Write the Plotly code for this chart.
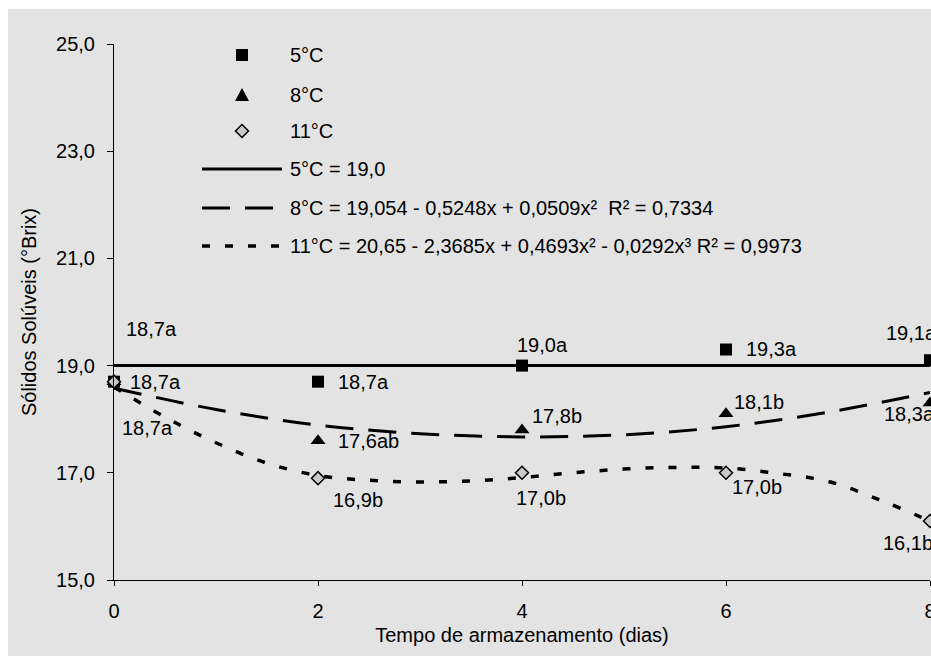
import plotly.graph_objects as go

# ---------------- data ----------------
dias = [0, 2, 4, 6, 8]
y_5 = [18.7, 18.7, 19.0, 19.3, 19.1]
y_8 = [18.7, 17.6, 17.8, 18.1, 18.3]
y_11 = [18.7, 16.9, 17.0, 17.0, 16.1]
let_5 = ["a", "a", "a", "a", "a"]
let_8 = ["a", "ab", "b", "b", "a"]
let_11 = ["a", "b", "b", "b", "b"]

# trend lines
trend5_x = [0, 8]
trend5_y = [19.0, 19.0]
trend8_x = [0, 1, 2, 3, 4, 5, 6, 7, 8]
trend8_y = [18.58, 18.18, 17.89, 17.73, 17.67, 17.71, 17.86, 18.13, 18.5]
trend11_x = [0, 0.5, 1, 1.5, 2, 2.5, 3, 3.5, 4, 4.5, 5, 5.5, 6, 6.5, 7, 7.5, 8]
trend11_y = [18.6, 18.04, 17.56, 17.18, 16.95, 16.86, 16.83, 16.85, 16.91,
             17.0, 17.07, 17.1, 17.09, 16.99, 16.84, 16.5, 16.1]

y_ticks = [15, 17, 19, 21, 23, 25]
x_ticks = [0, 2, 4, 6, 8]

legend_labels = ["5°C", "8°C", "11°C",
                 "5°C = 19,0",
                 "8°C = 19,054 - 0,5248x + 0,0509x²  R² = 0,7334",
                 "11°C = 20,65 - 2,3685x + 0,4693x² - 0,0292x³ R² = 0,9973"]

# ---------------- layout constants ----------------
W, H = 931, 656
L, R, T, B = 114, 1, 44, 76
PW = W - L - R
PH = H - T - B
FONT = "Liberation Sans, Arial, sans-serif"
FS = 20
GRAY = "#e3e3e3"
DIAM = "#c8c8c8"
DASH8 = "28px,15px"
DOT11 = "8px,15px"

def px2x(px):
    return (px - L) / PW

def py2y(py):
    return (H - B - py) / PH

# label offsets (pixels: dx, dy downward)
off_5 = [(37, -53), (45, 0), (20, -21), (45, -1), (-19, -27)]
off_8 = [(41, 0), (50, 0), (35, -14), (33, -12), (-21, 11)]
off_11 = [(33, 46), (40, 22), (19, 25), (31, 14), (-22, 22)]

def fmt(v):
    return f"{v:.1f}".replace(".", ",")

fig = go.Figure()

# trend lines
fig.add_trace(go.Scatter(x=trend5_x, y=trend5_y, mode="lines",
                         line=dict(color="black", width=3), showlegend=False,
                         hoverinfo="skip"))
fig.add_trace(go.Scatter(x=trend8_x, y=trend8_y, mode="lines", line_shape="spline",
                         line=dict(color="black", width=3, dash=DASH8), showlegend=False,
                         hoverinfo="skip"))
fig.add_trace(go.Scatter(x=trend11_x, y=trend11_y, mode="lines", line_shape="spline",
                         line=dict(color="black", width=3.5, dash=DOT11), showlegend=False,
                         hoverinfo="skip"))

# markers
fig.add_trace(go.Scatter(x=dias, y=y_5, mode="markers", cliponaxis=False,
                         marker=dict(symbol="square", size=12, color="black"),
                         showlegend=False))
fig.add_trace(go.Scatter(x=dias, y=y_8, mode="markers", cliponaxis=False,
                         marker=dict(symbol="triangle-up", size=13, color="black"),
                         showlegend=False))
fig.add_trace(go.Scatter(x=dias, y=y_11, mode="markers", cliponaxis=False,
                         marker=dict(symbol="diamond", size=10, color=DIAM,
                                     line=dict(color="black", width=1.5)),
                         showlegend=False))

# data labels
annotations = []
for ys, lets, offs in [(y_5, let_5, off_5), (y_8, let_8, off_8), (y_11, let_11, off_11)]:
    for xv, yv, lt, (dx, dy) in zip(dias, ys, lets, offs):
        annotations.append(dict(x=xv, y=yv, xref="x", yref="y", text=fmt(yv) + lt,
                                showarrow=False, xshift=dx, yshift=-dy,
                                xanchor="center", yanchor="middle",
                                font=dict(family=FONT, size=FS, color="black")))

# manual legend
leg_rows = [55, 95, 131, 169, 208, 246]
leg_sym_x = 242
leg_text_x = 288
shapes = []
# background panel
shapes.append(dict(type="rect", xref="paper", yref="paper",
                   x0=px2x(8), x1=px2x(W + 5), y0=py2y(H + 5), y1=py2y(9),
                   fillcolor=GRAY, line=dict(width=0), layer="below"))
# square
shapes.append(dict(type="rect", xref="paper", yref="paper",
                   xsizemode="pixel", ysizemode="pixel",
                   xanchor=px2x(leg_sym_x), yanchor=py2y(leg_rows[0]),
                   x0=-6, x1=6, y0=-6, y1=6, fillcolor="black", line=dict(width=0)))
# triangle
shapes.append(dict(type="path", xref="paper", yref="paper",
                   xsizemode="pixel", ysizemode="pixel",
                   xanchor=px2x(leg_sym_x), yanchor=py2y(leg_rows[1]),
                   path="M-7,-6 L7,-6 L0,7 Z", fillcolor="black", line=dict(width=0)))
# diamond
shapes.append(dict(type="path", xref="paper", yref="paper",
                   xsizemode="pixel", ysizemode="pixel",
                   xanchor=px2x(leg_sym_x), yanchor=py2y(leg_rows[2]),
                   path="M0,-6.5 L6.5,0 L0,6.5 L-6.5,0 Z", fillcolor=DIAM,
                   line=dict(color="black", width=1.5)))
# lines
for row, dash, w in [(leg_rows[3], "solid", 3), (leg_rows[4], DASH8, 3), (leg_rows[5], DOT11, 3.5)]:
    shapes.append(dict(type="line", xref="paper", yref="paper",
                       x0=px2x(202), x1=px2x(282), y0=py2y(row), y1=py2y(row),
                       line=dict(color="black", width=w, dash=dash)))

for row, txt in zip(leg_rows, legend_labels):
    annotations.append(dict(x=px2x(leg_text_x), y=py2y(row), xref="paper", yref="paper",
                            text=txt, showarrow=False, xanchor="left", yanchor="middle",
                            font=dict(family=FONT, size=FS, color="black")))

axis_common = dict(showgrid=False, zeroline=False, showline=True, linecolor="black",
                   linewidth=1, ticks="outside", tickcolor="black", tickwidth=1,
                   tickfont=dict(family=FONT, size=FS, color="black"))

fig.update_layout(
    width=W, height=H,
    margin=dict(l=L, r=R, t=T, b=B, autoexpand=False),
    paper_bgcolor="white",
    plot_bgcolor="rgba(0,0,0,0)",
    separators=", ",
    font=dict(family=FONT, size=FS, color="black"),
    xaxis=dict(range=[0, 8], tickvals=x_ticks, ticklen=5, ticklabelstandoff=8,
               ticklabeloverflow="allow",
               title=dict(text="Tempo de armazenamento (dias)",
                          font=dict(family=FONT, size=FS, color="black"), standoff=6),
               automargin=False, **axis_common),
    yaxis=dict(range=[15, 25], tickvals=y_ticks, tickformat=".1f", ticklen=6,
               ticklabelstandoff=8,
               title=dict(text="Sólidos Solúveis (°Brix)",
                          font=dict(family=FONT, size=FS, color="black"), standoff=14),
               automargin=False, **axis_common),
    shapes=shapes,
    annotations=annotations,
    showlegend=False,
)

fig.write_html("out.html")
